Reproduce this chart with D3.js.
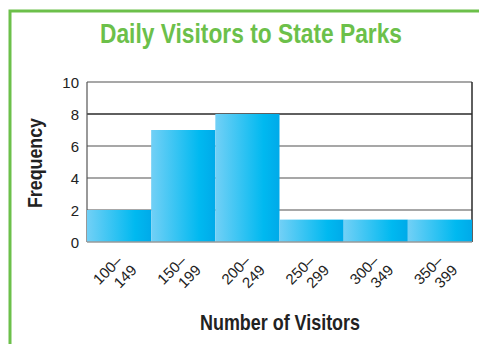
<!DOCTYPE html>
<html>
<head>
<meta charset="utf-8">
<script src="https://cdn.jsdelivr.net/npm/d3@7"></script>
<style>
  body { margin: 0; background: #fff; }
  svg { display: block; }
</style>
</head>
<body>
<script>
// data
const bins = ["100–149", "150–199", "200–249", "250–299", "300–349", "350–399"];
const freq = [2, 7, 8, 1.4, 1.4, 1.4];
const yTicks = [0, 2, 4, 6, 8, 10];

const W = 479, H = 344;
const m = { left: 87, right: 472, top: 82, bottom: 242 };
const font = "'Liberation Sans', Arial, sans-serif";

let svg = d3.select("body").append("svg")
  .attr("width", W)
  .attr("height", H);

// green frame
svg.append("path")
  .attr("d", "M10,344 L10,11 L479,11")
  .attr("fill", "none")
  .attr("stroke", "#6cc04a")
  .attr("stroke-width", 3);

svg.append("text")
  .attr("x", 251)
  .attr("y", 43)
  .attr("text-anchor", "middle")
  .attr("font-family", font)
  .attr("font-weight", "bold")
  .attr("font-size", "27px")
  .attr("fill", "#6cc04a")
  .attr("textLength", 302)
  .attr("lengthAdjust", "spacingAndGlyphs")
  .text("Daily Visitors to State Parks");

let x = d3.scaleBand().domain(bins).range([m.left, m.right]).padding(0);
let y = d3.scaleLinear().domain([0, 10]).range([m.bottom, m.top]);

let grad = svg.append("defs").append("linearGradient")
  .attr("id", "barGrad")
  .attr("x1", "0%").attr("x2", "100%").attr("y1", "0%").attr("y2", "0%");
grad.append("stop").attr("offset", "0%").attr("stop-color", "#72d0f6");
grad.append("stop").attr("offset", "75%").attr("stop-color", "#00b9f0");
grad.append("stop").attr("offset", "100%").attr("stop-color", "#00aae9");

// gridlines
svg.selectAll(".grid")
  .data(yTicks.filter(t => t > 0))
  .enter()
  .append("line")
    .attr("x1", m.left)
    .attr("x2", m.right)
    .attr("y1", d => y(d))
    .attr("y2", d => y(d))
    .attr("stroke", d => d == 8 ? "#2a2a2a" : "#8a8a8a")
    .attr("stroke-width", 1.5);

// side borders
svg.append("line")
  .attr("x1", m.left).attr("x2", m.left)
  .attr("y1", m.top).attr("y2", m.bottom)
  .attr("stroke", "#555").attr("stroke-width", 1.2);
svg.append("line")
  .attr("x1", m.right).attr("x2", m.right)
  .attr("y1", m.top).attr("y2", m.bottom)
  .attr("stroke", "#2a2a2a").attr("stroke-width", 1.5);

svg.selectAll(".bar")
  .data(bins)
  .enter()
  .append("rect")
    .attr("x", d => x(d))
    .attr("y", (d, i) => y(freq[i]))
    .attr("width", x.bandwidth())
    .attr("height", (d, i) => y(0) - y(freq[i]))
    .attr("fill", "url(#barGrad)");

// baseline
svg.append("line")
  .attr("x1", m.left).attr("x2", m.right)
  .attr("y1", y(0)).attr("y2", y(0))
  .attr("stroke", "#9a9a9a").attr("stroke-width", 1.5);

// y tick labels
svg.selectAll(".ylab")
  .data(yTicks)
  .enter()
  .append("text")
    .attr("x", 79)
    .attr("y", d => y(d) + 5.5)
    .attr("text-anchor", "end")
    .attr("font-family", font)
    .attr("font-size", "15px")
    .attr("fill", "#222")
    .text(d => d);

// x tick labels, rotated two-line
let xl = svg.selectAll(".xlab")
  .data(bins)
  .enter()
  .append("g")
    .attr("transform", d => "translate(" + (x(d) + x.bandwidth() / 2 - 3) + ",273) rotate(-45)");
xl.append("text")
  .attr("x", -4).attr("y", -3)
  .attr("text-anchor", "middle")
  .attr("font-family", font)
  .attr("font-size", "15px")
  .attr("fill", "#222")
  .text(d => d.split("–")[0] + "–");
xl.append("text")
  .attr("x", 4).attr("y", 14)
  .attr("text-anchor", "middle")
  .attr("font-family", font)
  .attr("font-size", "15px")
  .attr("fill", "#222")
  .text(d => d.split("–")[1]);

svg.append("text")
  .attr("x", 280)
  .attr("y", 330)
  .attr("text-anchor", "middle")
  .attr("font-family", font)
  .attr("font-weight", "bold")
  .attr("font-size", "22px")
  .attr("fill", "#222")
  .attr("textLength", 160)
  .attr("lengthAdjust", "spacingAndGlyphs")
  .text("Number of Visitors");

svg.append("text")
  .attr("text-anchor", "middle")
  .attr("font-family", font)
  .attr("font-weight", "bold")
  .attr("font-size", "21px")
  .attr("fill", "#222")
  .attr("textLength", 90)
  .attr("lengthAdjust", "spacingAndGlyphs")
  .attr("transform", "translate(42,163) rotate(-90)")
  .text("Frequency");
</script>
</body>
</html>
